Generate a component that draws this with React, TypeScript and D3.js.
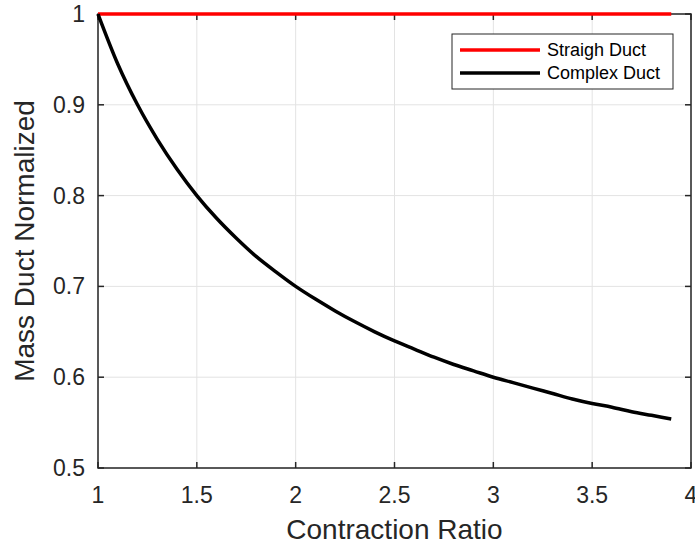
import React, { useRef, useEffect } from "react";
import * as d3 from "d3";

// values
const ratio = [1.0, 1.1, 1.2, 1.3, 1.4, 1.5, 1.6, 1.7, 1.8, 1.9, 2.0, 2.1, 2.2, 2.3, 2.4, 2.5, 2.6, 2.7, 2.8, 2.9, 3.0, 3.1, 3.2, 3.3, 3.4, 3.5, 3.6, 3.7, 3.8, 3.9];
const straightDuct = [1, 1, 1, 1, 1, 1, 1, 1, 1, 1, 1, 1, 1, 1, 1, 1, 1, 1, 1, 1, 1, 1, 1, 1, 1, 1, 1, 1, 1, 1];
const complexDuct = [1.0, 0.945, 0.9, 0.862, 0.829, 0.8, 0.775, 0.753, 0.733, 0.716, 0.7, 0.686, 0.673, 0.661, 0.65, 0.64, 0.631, 0.622, 0.614, 0.607, 0.6, 0.594, 0.588, 0.582, 0.576, 0.571, 0.567, 0.562, 0.558, 0.554];
const xTicks = [1, 1.5, 2, 2.5, 3, 3.5, 4];
const yTicks = [0.5, 0.6, 0.7, 0.8, 0.9, 1];
const seriesNames = ["Straigh Duct", "Complex Duct"];
const seriesColors = ["#ff0000", "#000000"];

const W = 695;
const H = 548;
const margin = { top: 14, right: 4, bottom: 80, left: 98 };

export default function App() {
  const ref = useRef<SVGSVGElement>(null);

  useEffect(() => {
    const svg = d3.select(ref.current);
    svg.selectAll("*").remove();

    const x = d3.scaleLinear().domain([1, 4]).range([margin.left, W - margin.right]);
    const y = d3.scaleLinear().domain([0.5, 1]).range([H - margin.bottom, margin.top]);
    const font = "Liberation Sans, Arial, sans-serif";
    const axisColor = "#262626";

    // grid
    const grid = svg.append("g");
    grid.selectAll("line.gx").data(xTicks).enter().append("line")
      .attr("x1", (d) => x(d)).attr("x2", (d) => x(d))
      .attr("y1", y(0.5)).attr("y2", y(1))
      .attr("stroke", "#e3e3e3").attr("stroke-width", 1);
    grid.selectAll("line.gy").data(yTicks).enter().append("line")
      .attr("y1", (d) => y(d)).attr("y2", (d) => y(d))
      .attr("x1", x(1)).attr("x2", x(4))
      .attr("stroke", "#e3e3e3").attr("stroke-width", 1);

    // box
    svg.append("rect")
      .attr("x", x(1)).attr("y", y(1))
      .attr("width", x(4) - x(1)).attr("height", y(0.5) - y(1))
      .attr("fill", "none").attr("stroke", axisColor).attr("stroke-width", 1.5);

    // ticks (inward, both sides)
    const tk = 6;
    const ticks = svg.append("g").attr("stroke", axisColor).attr("stroke-width", 1.5);
    xTicks.forEach((t) => {
      ticks.append("line").attr("x1", x(t)).attr("x2", x(t)).attr("y1", y(0.5)).attr("y2", y(0.5) - tk);
      ticks.append("line").attr("x1", x(t)).attr("x2", x(t)).attr("y1", y(1)).attr("y2", y(1) + tk);
    });
    yTicks.forEach((t) => {
      ticks.append("line").attr("y1", y(t)).attr("y2", y(t)).attr("x1", x(1)).attr("x2", x(1) + tk);
      ticks.append("line").attr("y1", y(t)).attr("y2", y(t)).attr("x1", x(4)).attr("x2", x(4) - tk);
    });

    // tick labels
    svg.selectAll("text.xt").data(xTicks).enter().append("text")
      .attr("x", (d) => x(d)).attr("y", 503)
      .attr("text-anchor", "middle")
      .style("font-family", font).style("font-size", "23px").attr("fill", axisColor)
      .text((d) => d3.format("")(d));
    svg.selectAll("text.yt").data(yTicks).enter().append("text")
      .attr("x", 85).attr("y", (d) => y(d) + 8)
      .attr("text-anchor", "end")
      .style("font-family", font).style("font-size", "23px").attr("fill", axisColor)
      .text((d) => d3.format("")(d));

    // axis labels
    svg.append("text")
      .attr("x", (x(1) + x(4)) / 2).attr("y", 539)
      .attr("text-anchor", "middle")
      .style("font-family", font).style("font-size", "28px").attr("fill", axisColor)
      .text("Contraction Ratio");
    svg.append("text")
      .attr("transform", `translate(34,${(y(0.5) + y(1)) / 2}) rotate(-90)`)
      .attr("text-anchor", "middle")
      .style("font-family", font).style("font-size", "28px").attr("fill", axisColor)
      .text("Mass Duct Normalized");

    // lines
    const line = d3.line<number>().x((_, i) => x(ratio[i])).y((d) => y(d)).curve(d3.curveMonotoneX);
    [straightDuct, complexDuct].forEach((s, i) => {
      svg.append("path")
        .datum(s)
        .attr("d", line)
        .attr("fill", "none")
        .attr("stroke", seriesColors[i])
        .attr("stroke-width", 3.5);
    });

    // legend
    const lg = svg.append("g").attr("transform", "translate(452,34)");
    lg.append("rect").attr("width", 221).attr("height", 55)
      .attr("fill", "#fff").attr("stroke", "#262626").attr("stroke-width", 1);
    seriesNames.forEach((n, i) => {
      lg.append("line").attr("x1", 8).attr("x2", 88).attr("y1", 16 + i * 23).attr("y2", 16 + i * 23)
        .attr("stroke", seriesColors[i]).attr("stroke-width", 3.5);
      lg.append("text").attr("x", 95).attr("y", 22 + i * 23)
        .style("font-family", font).style("font-size", "18px").attr("fill", "#000")
        .text(n);
    });
  }, []);

  return <svg ref={ref} width={W} height={H} style={{ position: "absolute", left: 0, top: 0, background: "#fff" }} />;
}
